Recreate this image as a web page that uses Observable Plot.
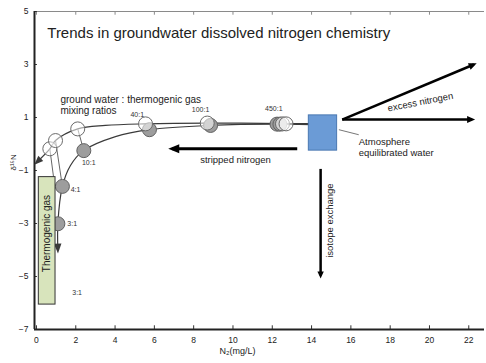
<!DOCTYPE html>
<html><head><meta charset="utf-8">
<script src="https://cdn.jsdelivr.net/npm/d3@7"></script>
<script src="https://cdn.jsdelivr.net/npm/@observablehq/plot@0.6"></script>
<style>body{margin:0;background:#fff} svg{display:block}</style>
</head><body><div id="chart"></div>
<script>
const xTicks = [0, 2, 4, 6, 8, 10, 12, 14, 16, 18, 20, 22];
const yTicks = [-7, -5, -3, -1, 1, 3, 5];
const xMin = -0.1, xMax = 22.8, yMin = -7, yMax = 5;

// upper mixing curve (open circles), drawn from atmosphere water toward the gas end
const upperX = [14.71, 12.67, 8.70, 5.55, 3.51, 2.10, 0.97, 0.68, 0.0];
const upperY = [0.77, 0.77, 0.79, 0.76, 0.70, 0.57, 0.13, -0.18, -0.70];
// lower mixing curve (grey circles)
const lowerX = [14.71, 12.27, 8.81, 5.75, 4.02, 2.39, 1.73, 1.32, 1.09, 1.09];
const lowerY = [0.72, 0.75, 0.70, 0.54, 0.28, -0.25, -0.81, -1.60, -3.00, -4.02];

const openX = [0.68, 0.97, 2.10, 5.55, 8.69, 12.52, 12.70];
const openY = [-0.18, 0.13, 0.57, 0.76, 0.79, 0.76, 0.76];
const greyX = [2.41, 5.75, 8.86, 1.32, 1.09, 12.24, 12.39];
const greyY = [-0.25, 0.54, 0.70, -1.60, -3.01, 0.75, 0.75];

// tie lines open -> grey
const tieX1 = [0.68, 0.97, 2.10], tieY1 = [-0.18, 0.13, 0.57];
const tieX2 = [0.87, 1.32, 2.41], tieY2 = [-1.25, -1.60, -0.25];

const ratioText = ["40:1", "100:1", "450:1", "10:1", "4:1", "3:1", "3:1"];
const ratioX = [5.13, 8.35, 12.08, 2.66, 1.99, 1.82, 2.07];
const ratioY = [1.09, 1.30, 1.32, -0.69, -1.73, -3.01, -5.63];

// boxes
const thermoBox = {x1: 0.12, x2: 0.97, y1: -6.06, y2: -1.25};
const atmosBox = {x1: 13.86, x2: 15.30, y1: -0.25, y2: 1.08};

// process arrows
const arrowName = ["stripped", "excessUp", "excessFlat", "isotope"];
const arrowX1 = [13.27, 15.56, 15.56, 14.46];
const arrowY1 = [-0.18, 0.92, 0.92, -0.94];
const arrowX2 = [6.91, 22.26, 22.17, 14.46];
const arrowY2 = [-0.18, 3.00, 0.92, -4.96];

const upper = upperX.map((x, i) => ({x, y: upperY[i]}));
const lower = lowerX.map((x, i) => ({x, y: lowerY[i]}));
const opens = openX.map((x, i) => ({x, y: openY[i]}));
const greys = greyX.map((x, i) => ({x, y: greyY[i]}));
const ties = tieX1.map((x, i) => ({x1: x, y1: tieY1[i], x2: tieX2[i], y2: tieY2[i]}));
const ratios = ratioText.map((t, i) => ({t, x: ratioX[i], y: ratioY[i]}));
const arrows = arrowName.map((n, i) => ({n, x1: arrowX1[i], y1: arrowY1[i], x2: arrowX2[i], y2: arrowY2[i]}));

const font = "'Liberation Sans', Arial, Helvetica, sans-serif";
const txt = "#222";
// stroke colours (slightly different so each arrowhead can be sized)
const cUpper = "#3a3a3a", cLower = "#3b3b3b", cBig = "#000000", cMid = "#010101", cSmall = "#020202";

const chart = Plot.plot({
  width: 486, height: 363,
  marginLeft: 34, marginRight: 2, marginTop: 11, marginBottom: 34,
  style: {background: "white", fontFamily: font, fontSize: "8.5px", color: "#222"},
  x: {domain: [xMin, xMax], ticks: xTicks, tickSize: 0, tickPadding: 7, label: null},
  y: {domain: [yMin, yMax], ticks: yTicks, tickSize: 0, tickPadding: 6, label: null},
  marks: [
    // frame
    Plot.ruleY([yMax], {stroke: "#8a8a8a", strokeWidth: 1}),
    Plot.ruleX(xTicks, {y1: yMax, y2: yMax - 0.14, stroke: "#8a8a8a"}),
    Plot.ruleX(xTicks, {y1: yMin, y2: yMin + 0.14, stroke: "#333"}),
    Plot.ruleY(yTicks, {x1: xMin, x2: xMin + 0.15, stroke: "#333"}),
    Plot.ruleY([yMin], {stroke: "#222", strokeWidth: 2}),
    Plot.ruleX([xMin], {stroke: "#222", strokeWidth: 2}),
    // curves
    Plot.line(upper, {x: "x", y: "y", curve: "catmull-rom", stroke: cUpper, strokeWidth: 1.2, markerEnd: "arrow"}),
    Plot.line(lower, {x: "x", y: "y", curve: "catmull-rom", stroke: cLower, strokeWidth: 1.2, markerEnd: "arrow"}),
    Plot.link(ties, {x1: "x1", y1: "y1", x2: "x2", y2: "y2", stroke: "#666", strokeWidth: 1}),
    Plot.dot(greys, {x: "x", y: "y", r: 7, fill: "#9d9d9d", stroke: "#606060", strokeWidth: 1}),
    Plot.dot(opens, {x: "x", y: "y", r: 7, fill: "white", fillOpacity: 0.55, stroke: "#6a6a6a", strokeWidth: 1}),
    // boxes
    Plot.rect([thermoBox], {x1: "x1", x2: "x2", y1: "y1", y2: "y2", fill: "#d8e4bc", stroke: "#333", strokeWidth: 1}),
    Plot.rect([atmosBox], {x1: "x1", x2: "x2", y1: "y1", y2: "y2", fill: "#6b9bd6", stroke: "#4a78b2", strokeWidth: 1}),
    Plot.link([{x1: 15.39, y1: 0.54, x2: 16.4, y2: 0.35}], {x1: "x1", y1: "y1", x2: "x2", y2: "y2", stroke: "#777", strokeWidth: 1}),
    // process arrows
    Plot.link(arrows.filter(d => d.n === "stripped"), {x1: "x1", y1: "y1", x2: "x2", y2: "y2", stroke: cBig, strokeWidth: 3, markerEnd: "arrow"}),
    Plot.link(arrows.filter(d => d.n.startsWith("excess")), {x1: "x1", y1: "y1", x2: "x2", y2: "y2", stroke: cMid, strokeWidth: 2.5, markerEnd: "arrow"}),
    Plot.link(arrows.filter(d => d.n === "isotope"), {x1: "x1", y1: "y1", x2: "x2", y2: "y2", stroke: cSmall, strokeWidth: 2.5, markerEnd: "arrow"}),
    // labels
    Plot.text(ratios, {x: "x", y: "y", text: "t", fontSize: 7, fill: "#333"}),
    Plot.text(["Trends in groundwater dissolved nitrogen chemistry"], {x: 0.55, y: 4.17, text: d => d, textAnchor: "start", fontSize: 15, fill: txt}),
    Plot.text(["ground water : thermogenic gas"], {x: 1.22, y: 1.67, text: d => d, textAnchor: "start", fontSize: 10, fill: txt}),
    Plot.text(["mixing ratios"], {x: 1.22, y: 1.24, text: d => d, textAnchor: "start", fontSize: 10, fill: txt}),
    Plot.text(["stripped nitrogen"], {x: 10.13, y: -0.62, text: d => d, fontSize: 9.5, fill: txt}),
    Plot.text(["excess nitrogen"], {x: 19.54, y: 1.58, text: d => d, fontSize: 9.5, rotate: -11, fill: txt}),
    Plot.text(["Atmosphere"], {x: 16.4, y: 0.07, text: d => d, textAnchor: "start", fontSize: 9.5, fill: txt}),
    Plot.text(["equilibrated water"], {x: 16.4, y: -0.35, text: d => d, textAnchor: "start", fontSize: 9.5, fill: txt}),
    Plot.text(["isotope exchange"], {x: 14.96, y: -2.89, text: d => d, rotate: -90, fontSize: 9.5, fill: txt}),
    Plot.text(["Thermogenic gas"], {x: 0.55, y: -3.38, text: d => d, rotate: -90, fontSize: 10, fill: txt}),
    Plot.text(["δ¹⁵N"], {frameAnchor: "left", dx: -21, rotate: -90, text: d => d, fontSize: 8, fill: txt}),
    Plot.text(["N₂(mg/L)"], {frameAnchor: "bottom", dx: -22, dy: 24, text: d => d, fontSize: 9, fill: txt})
  ]
});

// filled arrowheads, sized per stroke colour
const heads = {
  [cBig]: {len: 7, tip: 4, half: 4.5},
  [cMid]: {len: 5, tip: 3, half: 3.5},
  [cSmall]: {len: 4, tip: 3, half: 3.2},
  [cUpper]: {len: 6, tip: 3, half: 3.5},
  [cLower]: {len: 7, tip: 3, half: 3.8}
};
chart.querySelectorAll("marker").forEach(m => {
  const color = (m.getAttribute("stroke") || "#000").toLowerCase();
  const h = heads[color] || {len: 5, tip: 3, half: 3};
  m.setAttribute("markerUnits", "userSpaceOnUse");
  m.setAttribute("viewBox", "-20 -10 30 20");
  m.setAttribute("markerWidth", 30);
  m.setAttribute("markerHeight", 20);
  m.setAttribute("refX", 0);
  m.setAttribute("refY", 0);
  m.setAttribute("fill", color);
  m.setAttribute("stroke", "none");
  m.innerHTML = "";
  const p = document.createElementNS("http://www.w3.org/2000/svg", "path");
  p.setAttribute("d", `M${-h.len},${-h.half}L${h.tip},0L${-h.len},${h.half}Z`);
  m.appendChild(p);
});
document.getElementById("chart").appendChild(chart);
</script>
</body></html>
